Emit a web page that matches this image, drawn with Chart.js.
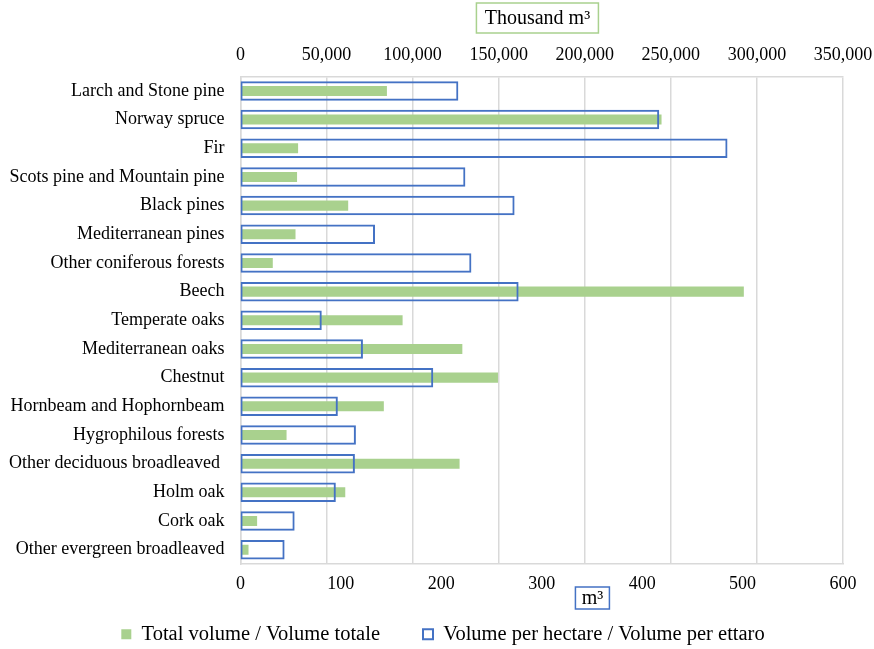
<!DOCTYPE html>
<html>
<head>
    <meta charset="UTF-8">
    <title>Growing stock by forest type</title>
    <script src="https://cdn.jsdelivr.net/npm/chart.js"></script>
    <style>
        body {
            margin: 0;
            background: #ffffff;
        }
        .wrap {
            width: 874px;
            height: 649px;
        }
    </style>
</head>
<body>
    <div class="wrap">
        <canvas id="volumeChart" width="874" height="649"></canvas>
    </div>

    <script>
        const categories = [
            "Larch and Stone pine",
            "Norway spruce",
            "Fir",
            "Scots pine and Mountain pine",
            "Black pines",
            "Mediterranean pines",
            "Other coniferous forests",
            "Beech",
            "Temperate oaks",
            "Mediterranean oaks",
            "Chestnut",
            "Hornbeam and Hophornbeam",
            "Hygrophilous forests",
            "Other deciduous broadleaved ",
            "Holm oak",
            "Cork oak",
            "Other evergreen broadleaved"
        ];

        // thousand m3 (top axis)
        const totalVolume = [85100, 244600, 33500, 32900, 62600, 32000, 18800, 292400, 94200,
            128900, 149600, 83300, 26800, 127300, 60900, 9700, 4700];

        // m3 per hectare (bottom axis)
        const volumePerHectare = [217, 417, 485, 224, 273, 134, 230, 277, 81,
            122, 192, 97, 115, 114, 95, 54, 44];

        const seriesLabels = ["Total volume / Volume totale", "Volume per hectare / Volume per ettaro"];
        const topAxisTitle = "Thousand m³";
        const bottomAxisTitle = "m³";

        const serif = "'Liberation Serif', 'Times New Roman', serif";
        const green = "#a9d18e";
        const blue = "#4472c4";
        const gridGrey = "#d9d9d9";

        function boxedText(ctx, text, cx, cy, w, h, color) {
            ctx.save();
            ctx.strokeStyle = color;
            ctx.lineWidth = 1.5;
            ctx.strokeRect(cx - w / 2, cy - h / 2, w, h);
            ctx.fillStyle = "#000";
            ctx.font = "20px " + serif;
            ctx.textAlign = "center";
            ctx.textBaseline = "middle";
            ctx.fillText(text, cx, cy + 1);
            ctx.restore();
        }

        // boxed axis titles, like the excel text boxes
        const axisBoxes = {
            id: "axisBoxes",
            afterLayout(chart) {
                // bottom axis is squeezed to leave room for legend, don't clip its labels
                chart.scales.x.bottom += 20;
                // legend sits a bit right of the canvas centre
                chart.legend.left += 9.5;
                chart.legend.right += 9.5;
            },
            afterDraw(chart) {
                const area = chart.chartArea;
                const ctx = chart.ctx;
                boxedText(ctx, topAxisTitle, area.left + 297, 18, 122, 30, green);
                boxedText(ctx, bottomAxisTitle, area.left + 352, 598, 34, 22, blue);
            }
        };

        const ctx = document.getElementById("volumeChart").getContext("2d");
        const volumeChart = new Chart(ctx, {
            type: "bar",
            data: {
                labels: categories,
                datasets: [{
                    label: seriesLabels[0],
                    data: totalVolume,
                    xAxisID: "x2",
                    backgroundColor: green,
                    borderWidth: 0,
                    barPercentage: 0.35,
                    categoryPercentage: 1,
                    grouped: false,
                    order: 1
                }, {
                    label: seriesLabels[1],
                    data: volumePerHectare,
                    xAxisID: "x",
                    backgroundColor: "rgba(255,255,255,0)",
                    borderColor: blue,
                    borderWidth: 2,
                    borderSkipped: false,
                    barPercentage: 0.68,
                    categoryPercentage: 1,
                    grouped: false,
                    order: 0
                }]
            },
            options: {
                indexAxis: "y",
                responsive: false,
                animation: false,
                layout: {
                    padding: { top: 33, left: -7, right: 0, bottom: -5.5 }
                },
                scales: {
                    x: {
                        position: "bottom",
                        min: 0,
                        max: 600,
                        ticks: {
                            stepSize: 100,
                            color: "#000",
                            padding: 9,
                            font: { family: serif, size: 18 }
                        },
                        grid: { display: false, drawTicks: false },
                        border: { color: gridGrey, width: 1.5 },
                        afterFit(scale) {
                            scale.height = 17;
                            scale.paddingRight = 31;
                        }
                    },
                    x2: {
                        position: "top",
                        min: 0,
                        max: 350000,
                        ticks: {
                            stepSize: 50000,
                            color: "#000",
                            padding: 11,
                            font: { family: serif, size: 18 },
                            callback: v => v.toLocaleString("en-US")
                        },
                        grid: { color: gridGrey, lineWidth: 1.5, drawTicks: false },
                        border: { color: gridGrey, width: 1.5 },
                        afterFit(scale) { scale.paddingRight = 31; }
                    },
                    y: {
                        ticks: {
                            color: "#000",
                            padding: 16,
                            font: { family: serif, size: 18 }
                        },
                        grid: { display: false, drawTicks: false },
                        border: { color: gridGrey, width: 1.5 }
                    }
                },
                plugins: {
                    legend: {
                        position: "bottom",
                        labels: {
                            color: "#000",
                            boxWidth: 10,
                            boxHeight: 10,
                            padding: 43,
                            font: { family: serif, size: 20.5 },
                            sort: (a, b) => a.datasetIndex - b.datasetIndex
                        }
                    },
                    tooltip: { enabled: false }
                }
            },
            plugins: [axisBoxes]
        });
    </script>
</body>
</html>
